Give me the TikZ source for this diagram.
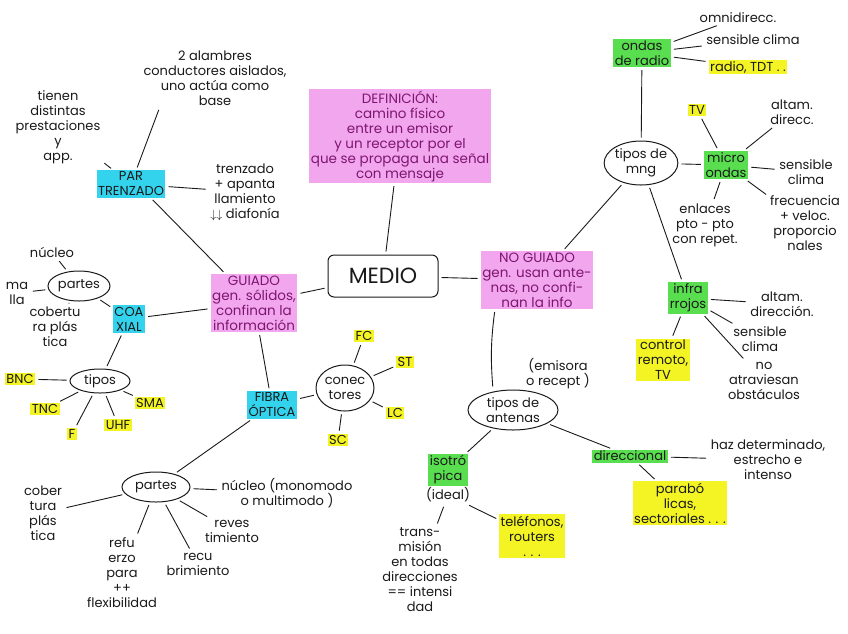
\documentclass[tikz,border=0pt]{standalone}
\usepackage{fontspec}
\setmainfont{Poppins}
\usepackage{tikz}
\usetikzlibrary{positioning}
\usetikzlibrary{shapes.geometric}
\definecolor{mm-pink}{HTML}{F2A6EE}
\definecolor{mm-purple}{HTML}{7E1670}
\definecolor{mm-cyan}{HTML}{33D3EE}
\definecolor{mm-green}{HTML}{58DE4E}
\definecolor{mm-yellow}{HTML}{F4F425}
\definecolor{mm-ink}{HTML}{1A1A1A}

\begin{document}
\begin{tikzpicture}[
    x=1pt, y=-1pt,
    font=\fontsize{13}{15}\selectfont,
    text=mm-ink
  ]

  % Global style definitions
  \tikzset{
    note/.style={align=center, inner sep=1.5pt},
    pinkmark/.style={note, fill=mm-pink, text=mm-purple, font=\fontsize{13.5}{15}\selectfont},
    cyanmark/.style={note, fill=mm-cyan},
    greenmark/.style={note, fill=mm-green},
    yellowmark/.style={note, fill=mm-yellow},
    bubble/.style={ellipse, draw=mm-ink, line width=1pt, align=center, inner sep=0pt},
    mainbox/.style={draw=mm-ink, line width=1pt, rounded corners=6pt, minimum width=110pt, minimum height=42pt, font=\fontsize{22}{24}\selectfont},
    link/.style={draw=mm-ink, line width=0.9pt, shorten <=3pt, shorten >=3pt}
  }

  \fill[white] (0,0) rectangle (848,633);
  \useasboundingbox (0,0) rectangle (848,633);

  % Centre and definition
  \node (medio) [mainbox] at (383,276) {MEDIO};
  \node (def) [pinkmark] at (400,136) {DEFINICIÓN:\\camino físico\\entre un emisor\\y un receptor por el\\que se propaga una señal\\con mensaje};
  \node (guiado) [pinkmark] at (254,303) {GUIADO\\gen. sólidos,\\confinan la\\información};
  \node (noguiado) [pinkmark] at (537,280) {NO GUIADO\\gen. usan ante-\\nas, no confi-\\nan la info};

  % Par trenzado
  \node (partrenzado) [cyanmark] at (131,184) {PAR\\TRENZADO};
  \node (tienen) [note] at (58,127) {tienen\\distintas\\prestaciones\\y\\app.};
  \node (alambres) [note] at (215,78) {2 alambres\\conductores aislados,\\uno actúa como\\base};
  \node (trenzado) [note] at (245,192) {trenzado\\+ apanta\\llamiento\\$\downarrow\downarrow$ diafonía};

  % Coaxial
  \node (coaxial) [cyanmark] at (129,319) {COA\\XIAL};
  \node (partesA) [bubble, minimum width=62pt, minimum height=30pt] at (79,286) {partes};
  \node (nucleoA) [note] at (52,252) {núcleo};
  \node (mallaA) [note] at (17,293) {ma\\lla};
  \node (coberA) [note] at (55,327) {cobertu\\ra plás\\tica};
  \node (tiposA) [bubble, minimum width=60pt, minimum height=24pt] at (100,381) {tipos};
  \node (bnc) [yellowmark] at (20,379) {BNC};
  \node (tnc) [yellowmark] at (45,409) {TNC};
  \node (f) [yellowmark] at (72,434) {F};
  \node (uhf) [yellowmark] at (118,425) {UHF};
  \node (sma) [yellowmark] at (150,403) {SMA};

  % Fibra optica
  \node (fibra) [cyanmark] at (272,405) {FIBRA\\ÓPTICA};
  \node (conect) [bubble, minimum width=58pt, minimum height=46pt] at (345,388) {conec\\tores};
  \node (fc) [yellowmark] at (364,336) {FC};
  \node (st) [yellowmark] at (405,362) {ST};
  \node (lc) [yellowmark] at (395,413) {LC};
  \node (sc) [yellowmark] at (338,440) {SC};
  \node (partesB) [bubble, minimum width=68pt, minimum height=30pt] at (156,487) {partes};
  \node (coberB) [note] at (43,513) {cober\\tura\\plás\\tica};
  \node (nucleoB) [note] at (287,493) {núcleo (monomodo\\o multimodo )};
  \node (revesB) [note] at (232,531) {reves\\timiento};
  \node (recuB) [note] at (198,564) {recu\\brimiento};
  \node (refuB) [note] at (122,573) {refu\\erzo\\para\\++\\flexibilidad};

  % Tipos de ondas
  \node (tiposmng) [bubble, minimum width=72pt, minimum height=44pt] at (641,163) {tipos de\\mng};
  \node (ondas) [greenmark] at (642,53) {ondas\\de radio};
  \node (omni) [note] at (738,18) {omnidirecc.};
  \node (sens1) [note] at (753,40) {sensible clima};
  \node (radio) [yellowmark] at (748,67) {radio, TDT . .};
  \node (micro) [greenmark] at (726,165) {micro\\ondas};
  \node (tv1) [yellowmark] at (697,110) {TV};
  \node (altam1) [note] at (792,112) {altam.\\direcc.};
  \node (sens2) [note] at (806,172) {sensible\\clima};
  \node (frec) [note] at (805,223) {frecuencia\\+ veloc.\\proporcio\\nales};
  \node (enlaces) [note] at (705,225) {enlaces\\pto - pto\\con repet.};
  \node (infra) [greenmark] at (688,298) {infra\\rrojos};
  \node (altam2) [note] at (782,304) {altam.\\dirección.};
  \node (sens3) [note] at (760,339) {sensible\\clima};
  \node (noatrav) [note] at (764,381) {no\\atraviesan\\obstáculos};
  \node (ctrl) [yellowmark] at (663,360) {control\\remoto,\\TV};

  % Antenas
  \node (antenas) [bubble, minimum width=90pt, minimum height=40pt] at (513,410) {tipos de\\antenas};
  \node (emisora) [note] at (558,374) {(emisora\\o recept )};
  \node (iso) [greenmark] at (448,470) {isotró\\pica};
  \node (ideal) [note, below=0pt of iso] {(ideal)};
  \node (trans) [note] at (420,570) {trans-\\misión\\en todas\\direcciones\\== intensi\\dad};
  \node (telef) [yellowmark] at (532,536) {teléfonos,\\routers\\. . .};
  \node (direc) [greenmark] at (630,456) {direccional};
  \node (haz) [note] at (768,460) {haz determinado,\\estrecho e\\intenso};
  \node (parab) [yellowmark] at (680,503) {parabó\\licas,\\sectoriales . . .};

  % Connectors
  \draw[link] (def) -- (medio);
  \draw[link] (medio) -- (guiado);
  \draw[link] (medio) -- (noguiado);
  \draw[link] ([xshift=-15pt]partrenzado.south east) -- (guiado);
  \draw[link] (guiado) -- (coaxial);
  \draw[link] (guiado) -- (fibra);
  \draw[link] (partrenzado) -- (tienen);
  \draw[link] (partrenzado) -- ([xshift=18pt]alambres.south west);
  \draw[link] (partrenzado) -- (trenzado);
  \draw[link] (coaxial) -- (partesA);
  \foreach \t in {nucleoA, mallaA, coberA}
    \draw[link] (partesA) -- (\t);
  \draw[link] (coaxial) -- (tiposA);
  \foreach \t in {bnc, tnc, f, uhf, sma}
    \draw[link] (tiposA) -- (\t);
  \draw[link] (fibra) -- (conect);
  \foreach \t in {fc, st, lc, sc}
    \draw[link] (conect) -- (\t);
  \draw[link] (fibra) -- (partesB);
  \foreach \t in {coberB, nucleoB, revesB, recuB, refuB}
    \draw[link] (partesB) -- (\t);
  \draw[link] (noguiado) -- (tiposmng);
  \draw[link] ([xshift=-42pt]noguiado.south) to[bend right=6] ([xshift=-20pt]antenas.north);
  \foreach \t in {ondas, micro, infra}
    \draw[link] (tiposmng) -- (\t);
  \foreach \t in {omni, sens1, radio}
    \draw[link] (ondas) -- (\t);
  \foreach \t in {tv1, altam1, sens2, frec, enlaces}
    \draw[link] (micro) -- (\t);
  \foreach \t in {altam2, sens3, noatrav, ctrl}
    \draw[link] (infra) -- (\t);
  \draw[link] (antenas) -- (iso);
  \draw[link] (antenas) -- (direc);
  \draw[link] (ideal) -- (trans);
  \draw[link] (ideal) -- (telef);
  \draw[link] (direc) -- (haz);
  \draw[link] (direc) -- (parab);

\end{tikzpicture}
\end{document}
